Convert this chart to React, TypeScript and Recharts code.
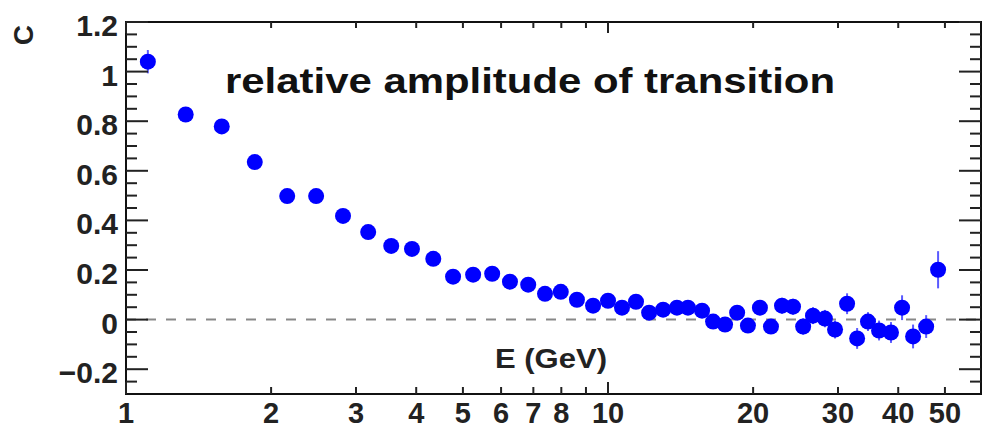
import React from "react";
import {
  ScatterChart,
  Scatter,
  XAxis,
  YAxis,
  ErrorBar,
  ReferenceLine,
  ReferenceArea,
} from "recharts";

// E (GeV) of each bin
const ENERGY = [
  1.11, 1.33, 1.58, 1.85, 2.16, 2.48, 2.82, 3.18, 3.55, 3.92, 4.34, 4.77,
  5.25, 5.75, 6.26, 6.83, 7.4, 7.98, 8.62, 9.31, 10.0, 10.69, 11.43, 12.17,
  13.01, 13.9, 14.65, 15.67, 16.52, 17.49, 18.53, 19.51, 20.66, 21.78, 22.96,
  24.2, 25.4, 26.62, 28.18, 29.58, 31.33, 32.87, 34.62, 36.5, 38.64, 40.74,
  42.94, 45.71, 48.39,
];

// relative amplitude C
const AMPLITUDE = [
  1.04, 0.827, 0.779, 0.635, 0.498, 0.498, 0.418, 0.353, 0.297, 0.285, 0.245,
  0.173, 0.181, 0.185, 0.153, 0.141, 0.104, 0.112, 0.08, 0.056, 0.076, 0.048,
  0.072, 0.028, 0.04, 0.048, 0.048, 0.036, -0.008, -0.02, 0.028, -0.024, 0.048,
  -0.028, 0.056, 0.052, -0.028, 0.016, 0.004, -0.04, 0.064, -0.076, -0.008,
  -0.044, -0.052, 0.048, -0.068, -0.028, 0.201,
];

const ERROR = [
  0.047, 0.02, 0.02, 0.02, 0.02, 0.02, 0.018, 0.018, 0.018, 0.018, 0.018,
  0.018, 0.018, 0.018, 0.018, 0.02, 0.02, 0.02, 0.02, 0.02, 0.02, 0.022, 0.022,
  0.022, 0.022, 0.024, 0.024, 0.025, 0.026, 0.027, 0.028, 0.028, 0.03, 0.03,
  0.032, 0.032, 0.033, 0.034, 0.035, 0.036, 0.042, 0.042, 0.038, 0.04, 0.042,
  0.05, 0.048, 0.046, 0.075,
];

const X_TICKS = [1, 2, 3, 4, 5, 6, 7, 8, 9, 10, 20, 30, 40, 50];
const X_LABELS = [1, 2, 3, 4, 5, 6, 7, 8, 10, 20, 30, 40, 50];
const X_MAJOR = [1, 10];
const Y_LABELS = [-0.2, 0, 0.2, 0.4, 0.6, 0.8, 1, 1.2];
const Y_TICKS = Array.from({ length: 30 }, (_, i) =>
  Math.round((-0.25 + i * 0.05) * 100) / 100
);

const X_DOMAIN = [1, 59.4];
const Y_DOMAIN = [-0.3, 1.2];

const FONT = "'Liberation Sans', Arial, Helvetica, sans-serif";
const TICK_COLOR = "#222";

const data = ENERGY.map((e, i) => ({ e, c: AMPLITUDE[i], err: ERROR[i] }));

const isYMajor = (v: number) => Y_LABELS.some((m) => Math.abs(m - v) < 1e-6);

const fmtY = (v: number) => {
  if (Math.abs(v) < 1e-9) return "0";
  if (v < 0) return "\u2212" + String(-v);
  return String(v);
};

function BottomTick(props: any) {
  const { x, y, payload } = props;
  const v = payload.value;
  const len = X_MAJOR.includes(v) ? 12 : 7;
  return (
    <g>
      <line x1={x} x2={x} y1={y} y2={y - len} stroke={TICK_COLOR} strokeWidth={2} />
      {X_LABELS.includes(v) && (
        <text
          x={x}
          y={y + 29}
          textAnchor="middle"
          fontFamily={FONT}
          fontWeight="bold"
          fontSize={29}
          fill="#222"
        >
          {v}
        </text>
      )}
    </g>
  );
}

function TopTick(props: any) {
  const { x, y, payload } = props;
  const len = X_MAJOR.includes(payload.value) ? 11 : 6;
  return <line x1={x} x2={x} y1={y} y2={y + len} stroke={TICK_COLOR} strokeWidth={2} />;
}

function LeftTick(props: any) {
  const { x, y, payload } = props;
  const v = payload.value;
  const major = isYMajor(v);
  return (
    <g>
      <line x1={x} x2={x + (major ? 22 : 11)} y1={y} y2={y} stroke={TICK_COLOR} strokeWidth={2} />
      {major && (
        <text
          x={x - 8}
          y={y + 14}
          textAnchor="end"
          fontFamily={FONT}
          fontWeight="bold"
          fontSize={30}
          fill="#222"
        >
          {fmtY(v)}
        </text>
      )}
    </g>
  );
}

function RightTick(props: any) {
  const { x, y, payload } = props;
  const len = isYMajor(payload.value) ? 22 : 11;
  return <line x1={x} x2={x - len} y1={y} y2={y} stroke={TICK_COLOR} strokeWidth={2} />;
}

const Dot = (props: any) => <circle cx={props.cx} cy={props.cy} r={8} fill="#0000ff" />;

export default function App() {
  return (
    <div style={{ position: "absolute", left: 0, top: 0, width: 984, height: 429, background: "#fff" }}>
      <ScatterChart width={984} height={429} margin={{ top: 21, right: 2, bottom: 0, left: 0 }}>
        <XAxis
          type="number"
          dataKey="e"
          scale="log"
          domain={X_DOMAIN}
          allowDataOverflow
          ticks={X_TICKS}
          interval={0}
          tick={<BottomTick />}
          tickSize={0}
          tickMargin={0}
          tickLine={false}
          axisLine={{ stroke: "#111", strokeWidth: 2 }}
          height={35}
        />
        <XAxis
          xAxisId="top"
          orientation="top"
          type="number"
          dataKey="e"
          scale="log"
          domain={X_DOMAIN}
          allowDataOverflow
          ticks={X_TICKS}
          interval={0}
          tick={<TopTick />}
          tickSize={0}
          tickMargin={0}
          tickLine={false}
          axisLine={false}
          height={1}
        />
        <YAxis
          type="number"
          dataKey="c"
          domain={Y_DOMAIN}
          allowDataOverflow
          ticks={Y_TICKS}
          interval={0}
          tick={<LeftTick />}
          tickSize={0}
          tickMargin={0}
          tickLine={false}
          axisLine={{ stroke: "#111", strokeWidth: 2 }}
          width={126}
        />
        <YAxis
          yAxisId="right"
          orientation="right"
          type="number"
          dataKey="c"
          domain={Y_DOMAIN}
          allowDataOverflow
          ticks={Y_TICKS}
          interval={0}
          tick={<RightTick />}
          tickSize={0}
          tickMargin={0}
          tickLine={false}
          axisLine={false}
          width={1}
        />
        <ReferenceArea
          x1={X_DOMAIN[0]}
          x2={X_DOMAIN[1]}
          y1={Y_DOMAIN[0]}
          y2={Y_DOMAIN[1]}
          fill="none"
          fillOpacity={0}
          stroke="#111"
          strokeWidth={2}
        />
        <ReferenceLine y={0} stroke="#888" strokeWidth={2} strokeDasharray="10 10" />
        <Scatter data={data} shape={Dot} isAnimationActive={false}>
          <ErrorBar
            dataKey="err"
            direction="y"
            width={0}
            stroke="#5a5aff"
            strokeWidth={2}
            isAnimationActive={false}
          />
        </Scatter>
      </ScatterChart>
      <svg
        width={984}
        height={429}
        style={{ position: "absolute", left: 0, top: 0, pointerEvents: "none" }}
      >
        <text
          x={225}
          y={93}
          fontFamily={FONT}
          fontWeight="bold"
          fontSize={35}
          textLength={610}
          lengthAdjust="spacingAndGlyphs"
          fill="#111"
        >
          relative amplitude of transition
        </text>
        <text
          x={495}
          y={368}
          fontFamily={FONT}
          fontWeight="bold"
          fontSize={28}
          textLength={112}
          lengthAdjust="spacingAndGlyphs"
          fill="#222"
        >
          E (GeV)
        </text>
        <text
          x={33}
          y={35}
          transform="rotate(-90 33 35)"
          textAnchor="middle"
          fontFamily={FONT}
          fontWeight="bold"
          fontSize={28}
          fill="#222"
        >
          C
        </text>
      </svg>
    </div>
  );
}
